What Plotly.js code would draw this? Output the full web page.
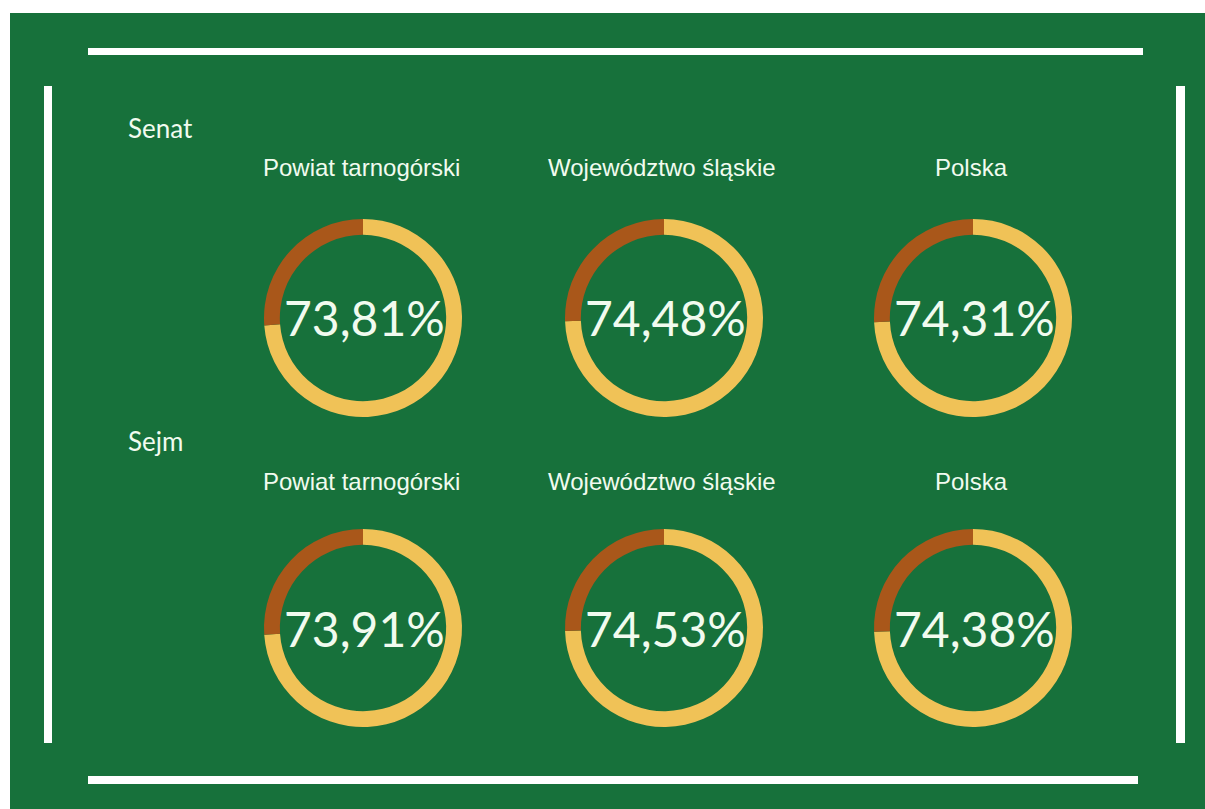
<!DOCTYPE html>
<html>
<head>
<meta charset="utf-8">
<script src="https://cdn.plot.ly/plotly-3.0.1.min.js"></script>
<style>
  html, body { margin: 0; padding: 0; background: #ffffff; }
  #chart { width: 1205px; height: 809px; }
</style>
</head>
<body>
<div id="chart"></div>
<script>
// ---- data ----
const groups = ["Senat", "Sejm"];
const regions = ["Powiat tarnogórski", "Województwo śląskie", "Polska"];
const senatTurnout = [73.81, 74.48, 74.31];
const sejmTurnout = [73.91, 74.53, 74.38];
const sliceLabels = ["Frekwencja", "Brak udziału"];

// ---- layout helpers (pixel -> paper) ----
const W = 1205, H = 809;
const px = x => x / W;
const py = y => 1 - y / H;

const GREEN = "#17713b";
const YELLOW = "#f0c257";
const BROWN = "#a9571a";
const TEXT = "#f1fbef";

const colCenters = [363, 664, 973];
const rowCenters = [318, 628];
const titleY = [168, 481];
const groupY = [128, 441];
const R = 99;

const series = [senatTurnout, sejmTurnout];
const traces = [];
const annotations = [];

series.forEach((vals, ri) => {
  annotations.push({
    text: groups[ri], x: px(126), y: py(groupY[ri]), xref: "paper", yref: "paper",
    xanchor: "left", yanchor: "middle", showarrow: false,
    font: {family: "Lato, 'Open Sans', sans-serif", size: 26, color: TEXT}
  });
  vals.forEach((v, ci) => {
    const cx = colCenters[ci], cy = rowCenters[ri];
    traces.push({
      type: "pie",
      values: [v, 100 - v],
      labels: sliceLabels,
      hole: 0.84,
      sort: false,
      direction: "clockwise",
      rotation: 0,
      textinfo: "none",
      hoverinfo: "label+value",
      showlegend: false,
      marker: {colors: [YELLOW, BROWN], line: {width: 0}},
      domain: {x: [px(cx - R), px(cx + R)], y: [py(cy + R), py(cy - R)]}
    });
    annotations.push({
      text: regions[ci], x: px(cx - 2), y: py(titleY[ri]), xref: "paper", yref: "paper",
      xanchor: "center", yanchor: "middle", showarrow: false,
      font: {family: "'Liberation Sans', Arial, sans-serif", size: 24, color: TEXT}
    });
    annotations.push({
      text: v.toFixed(2).replace(".", ",") + "%", x: px(cx + 1), y: py(cy), xref: "paper", yref: "paper",
      xanchor: "center", yanchor: "middle", showarrow: false,
      font: {family: "Lato, 'Open Sans', sans-serif", size: 48, color: TEXT}
    });
  });
});

const line = (x0, y0, x1, y1) => ({
  type: "rect", xref: "paper", yref: "paper", layer: "below",
  x0: px(x0), x1: px(x1), y0: py(y1), y1: py(y0),
  fillcolor: "#ffffff", line: {width: 0}
});

const shapes = [
  {type: "rect", xref: "paper", yref: "paper", layer: "below",
   x0: px(10), x1: px(1205), y0: py(809), y1: py(13),
   fillcolor: GREEN, line: {width: 0}},
  line(88, 48, 1143, 55),
  line(88, 776, 1138, 784),
  line(44, 86, 52, 743),
  line(1176, 86, 1185, 743)
];

const layout = {
  width: W, height: H,
  margin: {l: 0, r: 0, t: 0, b: 0},
  paper_bgcolor: "#ffffff",
  plot_bgcolor: "rgba(0,0,0,0)",
  showlegend: false,
  shapes: shapes,
  annotations: annotations
};

Plotly.newPlot("chart", traces, layout, {displayModeBar: false, staticPlot: false});
</script>
</body>
</html>
